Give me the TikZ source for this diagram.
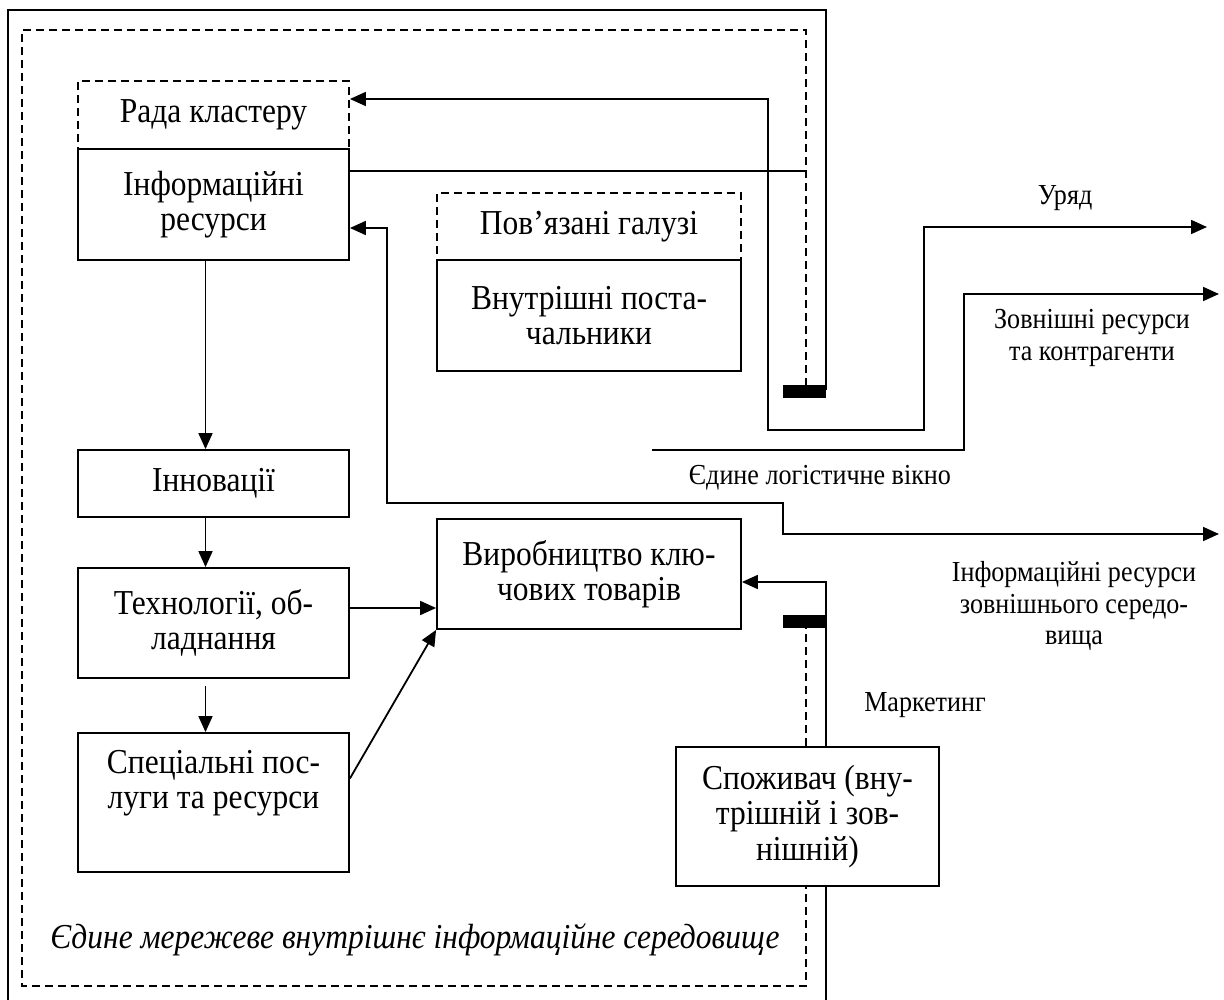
\documentclass[tikz,border=0pt]{standalone}
\usepackage{fontspec}
\setmainfont{Liberation Serif}[FakeStretch=0.9]
\usetikzlibrary{arrows.meta}

\begin{document}
\begin{tikzpicture}[x=1pt, y=-1pt, line width=1.8pt,
  >={Triangle[length=16pt,width=14pt]},
  font=\fontsize{35}{35.5}\selectfont,
  box/.style={draw, fill=white, inner sep=0pt, align=center},
  dbox/.style={box, dash pattern=on 8pt off 5pt},
  dline/.style={dash pattern=on 8pt off 5pt},
  lbl/.style={align=center, font=\fontsize{29}{31.5}\selectfont}]
 \useasboundingbox (0,0) rectangle (1224,1000);

 % left column
 \draw (213.5,115) node[dbox, minimum width=271pt, minimum height=68pt] (Rada) {Рада кластеру};
 \draw (213.5,204.5) node[box, minimum width=271pt, minimum height=111pt] (InfoRes) {Інформаційні\\ресурси};
 \draw (213.5,483.5) node[box, minimum width=271pt, minimum height=67pt] (Innov) {Інновації};
 \draw (213.5,623) node[box, minimum width=271pt, minimum height=110pt] (Tech) {Технології, об-\\ладнання};
 \draw (213.5,802.5) node[box, minimum width=271pt, minimum height=139pt] (Spec) {Спеціальні пос-\\луги та ресурси\\ \strut};

 % middle column
 \draw (589,226.5) node[dbox, minimum width=304pt, minimum height=67pt] (Galuzi) {Пов’язані галузі};
 \draw (589,315.5) node[box, minimum width=304pt, minimum height=111pt] (Postach) {Внутрішні поста-\\чальники};
 \draw (589,574) node[box, minimum width=304pt, minimum height=110pt] (Vyrob) {Виробництво клю-\\чових товарів};

 % free ends
 \coordinate (UryadEnd) at (1207,227);
 \coordinate (ZovnEnd) at (1219,294);
 \coordinate (InfZovnEnd) at (1219,534);
 \coordinate (VikStart) at (652,450);
 \coordinate (Mark) at (826,582);

 % frames
 \draw (8,1000) -- (8,10) -- (826,10) -- (826,390);
 \draw[dline, line width=1.4pt] (806,386) -- (806,30) -- (22,30) -- (22,986) -- (806,986) -- (806,628);
 \fill (783,385) rectangle (826,398);
 \fill (783,615) rectangle (826,628);

 % connectors
 \draw[->] ([xshift=-8pt]InfoRes.south) -- ([xshift=-8pt]Innov.north);
 \draw[->] ([xshift=-8pt]Innov.south) -- ([xshift=-8pt]Tech.north);
 \draw[->] ([xshift=-8pt,yshift=-7pt]Tech.south) -- ([xshift=-8pt]Spec.north);
 \draw[->] ([yshift=15pt]Tech.east) -- ([yshift=15pt]Tech.east -| Vyrob.west);
 \draw[->] ([yshift=24pt]Spec.east) -- (Vyrob.south west);

 \draw[<->] ([yshift=16pt]Rada.east) -- (768,99) -- (768,430) -- (924,430) -- (924,227) -- (UryadEnd);
 \draw ([yshift=33.5pt]InfoRes.east) -- (806,171);
 \draw[<->] ([yshift=-23.5pt]InfoRes.east) -- (387,228) -- (387,503) -- (783,503) -- (783,534) -- (InfZovnEnd);
 \draw[->] (VikStart) -- (964,450) -- (964,294) -- (ZovnEnd);
 \draw[->] (826,1000) -- (Mark) -- (Vyrob.east |- Mark);

 % consumer
 \draw (807.5,816.5) node[box, minimum width=263pt, minimum height=139pt] (Spozh) {Споживач (вну-\\трішній і зов-\\нішній)};

 % labels
 \draw (1065,198) node[lbl] (UryadLbl) {Уряд};
 \draw (1092,338) node[lbl] (ZovnLbl) {Зовнішні ресурси\\та контрагенти};
 \draw (820,478) node[lbl] (VikLbl) {Єдине логістичне вікно};
 \draw (1074,606) node[lbl] (InfZovnLbl) {Інформаційні ресурси\\зовнішнього середо-\\вища};
 \draw (925,705) node[lbl] (MarkLbl) {Маркетинг};
 \draw (415,940) node (SeredLbl) {\itshape Єдине мережеве внутрішнє інформаційне середовище};
\end{tikzpicture}
\end{document}
